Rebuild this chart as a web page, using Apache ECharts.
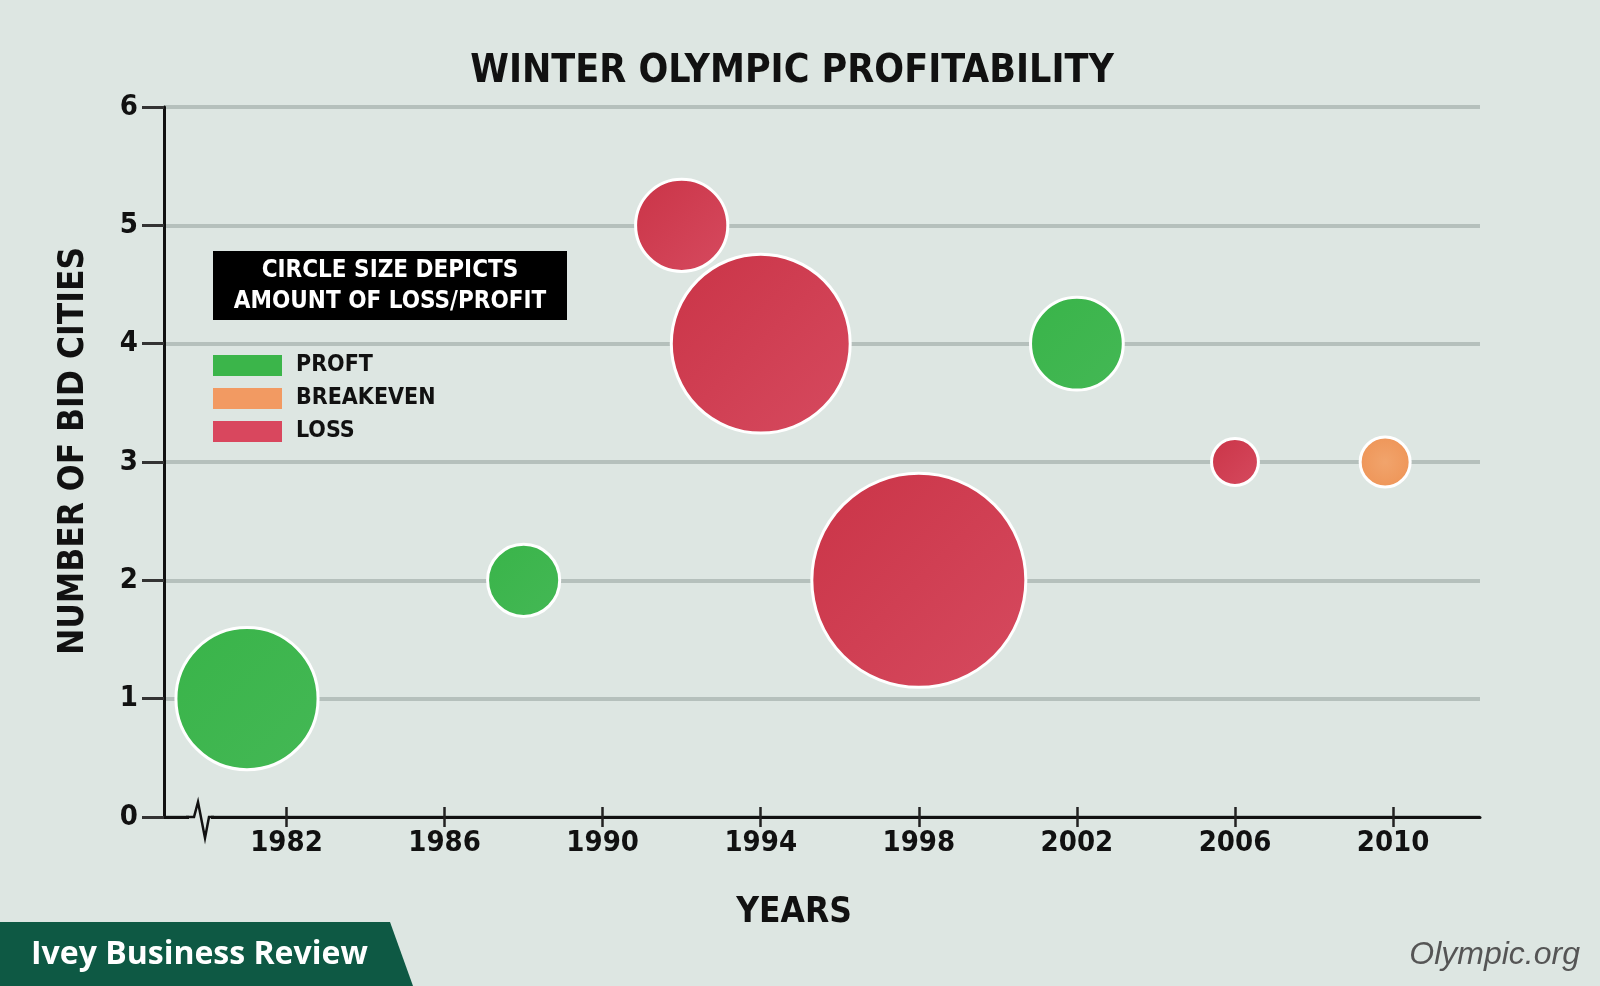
<!DOCTYPE html>
<html><head><meta charset="utf-8">
<script src="https://cdn.jsdelivr.net/npm/echarts@6/dist/echarts.min.js"></script>
<style>html,body{margin:0;padding:0;background:#dde6e2}#c{width:1600px;height:986px}</style>
</head><body><div id="c"></div><script>
// ---- data ----
const yearTicks = [1982, 1986, 1990, 1994, 1998, 2002, 2006, 2010];
const seriesNames = ['PROFT', 'BREAKEVEN', 'LOSS'];
const profitYears = [1981, 1988, 2002];
const profitBids = [1, 2, 4];
const profitAmount = [202, 52, 86];
const breakevenYears = [2009.8];
const breakevenBids = [3];
const breakevenAmount = [25];
const lossYears = [1992, 1994, 1998, 2006];
const lossBids = [5, 4, 2, 3];
const lossAmount = [85, 320, 458, 22];

const COND = "'Liberation Sans Narrow','DejaVu Sans Condensed','Arial Narrow',sans-serif";
const BG = '#dde6e2';
function pts(xs, ys, a) { return xs.map((x, i) => [x, ys[i], a[i]]); }
const sizeFn = d => 10 * Math.sqrt(d[2]);

const chart = echarts.init(document.getElementById('c'));
const common = { type: 'scatter', symbol: 'circle', symbolSize: sizeFn, xAxisIndex: 0 };
chart.setOption({
  animation: false,
  backgroundColor: BG,
  title: {
    text: 'WINTER OLYMPIC PROFITABILITY', left: 792, top: 52, textAlign: 'center', padding: 0,
    textStyle: { fontFamily: COND, fontWeight: 'bold', fontSize: 39, color: '#111' }
  },
  grid: { left: 164, right: 120, top: 107, bottom: 169 },
  xAxis: [{
    type: 'value', min: 1978.9, max: 2012.2,
    name: 'YEARS', nameLocation: 'middle', nameGap: 78,
    nameTextStyle: { fontFamily: COND, fontWeight: 'bold', fontSize: 35, color: '#111', padding: [0, 56, 0, 0] },
    axisLine: { show: true, onZero: false, lineStyle: { color: '#111', width: 3 } },
    axisTick: { show: true, customValues: yearTicks, length: 10, lineStyle: { color: '#222', width: 2.5 } },
    axisLabel: { customValues: yearTicks, formatter: v => String(v), margin: 12, fontFamily: COND, fontWeight: 'bold', fontSize: 29, color: '#111' },
    splitLine: { show: false }
  }, {
    type: 'value', min: 1978.9, max: 2012.2, position: 'bottom',
    axisLine: { show: false },
    axisTick: { show: true, inside: true, customValues: yearTicks, length: 10, lineStyle: { color: '#222', width: 2.5 } },
    axisLabel: { show: false }, splitLine: { show: false }
  }],
  yAxis: {
    type: 'value', min: 0, max: 6, interval: 1,
    name: 'NUMBER OF BID CITIES', nameLocation: 'middle', nameGap: 73, nameRotate: 90,
    nameTextStyle: { fontFamily: COND, fontWeight: 'bold', fontSize: 35, color: '#111', padding: [0, 0, 0, 22] },
    axisLine: { show: true, lineStyle: { color: '#111', width: 3 } },
    axisTick: { show: true, length: 22, lineStyle: { color: '#333', width: 3 } },
    axisLabel: { margin: 26, fontFamily: COND, fontWeight: 'bold', fontSize: 29, color: '#111' },
    splitLine: { show: true, lineStyle: { color: '#b5c0bc', width: 4 } }
  },
  legend: {
    orient: 'vertical', left: 213, top: 354, padding: 0, itemWidth: 69, itemHeight: 21, itemGap: 10,
    icon: 'rect', selectedMode: false,
    textStyle: { fontFamily: COND, fontWeight: 'bold', fontSize: 23, color: '#111', padding: [0, 0, 0, 9] },
    data: [
      { name: 'PROFT', itemStyle: { color: '#3bb54a', borderWidth: 0, opacity: 1 } },
      { name: 'BREAKEVEN', itemStyle: { color: '#f29a62', borderWidth: 0, opacity: 1 } },
      { name: 'LOSS', itemStyle: { color: '#d9475e', borderWidth: 0, opacity: 1 } }
    ]
  },
  series: [
    Object.assign({}, common, {
      name: seriesNames[0], data: pts(profitYears, profitBids, profitAmount),
      itemStyle: { opacity: 1, color: { type: 'linear', x: 0, y: 0, x2: 1, y2: 1, colorStops: [{ offset: 0, color: '#39b449' }, { offset: 1, color: '#44b855' }] }, borderColor: '#fff', borderWidth: 3 }
    }),
    Object.assign({}, common, {
      name: seriesNames[1], data: pts(breakevenYears, breakevenBids, breakevenAmount),
      itemStyle: { opacity: 1, color: { type: 'radial', x: 0.5, y: 0.5, r: 0.6, colorStops: [{ offset: 0, color: '#f1a46c' }, { offset: 1, color: '#ee9355' }] }, borderColor: '#fff', borderWidth: 3 }
    }),
    Object.assign({}, common, {
      name: seriesNames[2], data: pts(lossYears, lossBids, lossAmount),
      itemStyle: { opacity: 1, color: { type: 'linear', x: 0, y: 0, x2: 1, y2: 1, colorStops: [{ offset: 0, color: '#ca3447' }, { offset: 1, color: '#d64a5f' }] }, borderColor: '#fff', borderWidth: 3 }
    })
  ],
  graphic: [
    { type: 'rect', z: 10, shape: { x: 189, y: 812, width: 22, height: 10 }, style: { fill: BG } },
    { type: 'polyline', z: 11, shape: { points: [[186, 817], [194, 817], [198, 802], [205, 838], [209, 817], [214, 817]] }, style: { stroke: '#111', lineWidth: 2.5, fill: null } },
    { type: 'rect', z: 10, shape: { x: 213, y: 251, width: 354, height: 69 }, style: { fill: '#000' } },
    { type: 'text', z: 11, x: 390, y: 271, style: { text: 'CIRCLE SIZE DEPICTS', fill: '#fff', font: "bold 24px " + COND, textAlign: 'center', textVerticalAlign: 'middle' } },
    { type: 'text', z: 11, x: 390, y: 302, style: { text: 'AMOUNT OF LOSS/PROFIT', fill: '#fff', font: "bold 24px " + COND, textAlign: 'center', textVerticalAlign: 'middle' } },
    { type: 'polygon', z: 10, shape: { points: [[0, 922], [390, 922], [413, 986], [0, 986]] }, style: { fill: '#0e5944' } },
    { type: 'text', z: 11, x: 31, y: 955, style: { text: 'Ivey Business Review', fill: '#fff', font: "bold 32px 'Open Sans', sans-serif", textAlign: 'left', textVerticalAlign: 'middle' } },
    { type: 'text', z: 11, x: 1580, y: 955, style: { text: 'Olympic.org', fill: '#555', font: "italic 32px 'Liberation Sans', sans-serif", textAlign: 'right', textVerticalAlign: 'middle' } }
  ]
});
</script></body></html>
